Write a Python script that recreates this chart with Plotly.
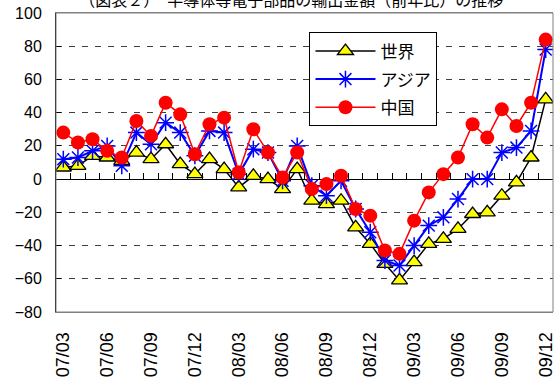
import plotly.graph_objects as go

months = ["07/03","07/04","07/05","07/06","07/07","07/08","07/09","07/10","07/11","07/12",
          "08/01","08/02","08/03","08/04","08/05","08/06","08/07","08/08","08/09","08/10","08/11","08/12",
          "09/01","09/02","09/03","09/04","09/05","09/06","09/07","09/08","09/09","09/10","09/11","09/12"]

world = [7, 8, 14, 13, 11, 16, 12, 21, 9, 3,
         12, 6, -5, 2, 0, -6, 6, -13, -15, -13, -29, -39,
         -51, -61, -50, -39, -36, -30, -21, -20, -10, -2, 13, 48]
asia = [12, 13, 17, 20, 8, 28, 21, 34, 28, 14,
        29, 28, 3, 18, 16, -1, 20, -4, -10, -1, -18, -32,
        -49, -52, -40, -28, -23, -12, 0, 0, 16, 19, 29, 78]
china = [28, 22, 24, 17, 13, 35, 26, 46, 39, 15,
         33, 37, 4, 30, 16, 1, 16, -6, -3, 2, -18, -22,
         -43, -45, -25, -8, 3, 13, 33, 25, 42, 32, 46, 84]

series_names = ["世界", "アジア", "中国"]
y_ticks = [100, 80, 60, 40, 20, 0, -20, -40, -60, -80]
title_text = "（図表２）　半導体等電子部品の輸出金額（前年比）の推移"

idx = list(range(len(months)))
label_idx = idx[::3]
label_text = [months[i] for i in label_idx]

FONT = "Liberation Sans, Arial, Noto Sans CJK JP, sans-serif"

fig = go.Figure()
fig.add_trace(go.Scatter(
    x=idx, y=world, name=series_names[0], mode="lines+markers",
    line=dict(color="black", width=1.5),
    marker=dict(symbol="triangle-up", size=14, color="#FFFF00",
                line=dict(color="black", width=1.3)),
    legendgroup="a"))
fig.add_trace(go.Scatter(
    x=idx, y=asia, name=series_names[1], mode="lines+markers",
    line=dict(color="#0000FF", width=2),
    marker=dict(symbol="asterisk-open", size=14, color="#0000FF",
                line=dict(color="#0000FF", width=1.5)),
    legendgroup="b"))
fig.add_trace(go.Scatter(
    x=idx, y=china, name=series_names[2], mode="lines+markers",
    line=dict(color="#FF0000", width=1.5),
    marker=dict(symbol="circle", size=14, color="#FF0000"),
    legendgroup="c"))
# dummy trace for the tick axis at zero
fig.add_trace(go.Scatter(x=[None], y=[None], xaxis="x2", showlegend=False, hoverinfo="skip"))

y_min, y_max = -80, 100
fig.update_layout(
    width=560, height=385,
    margin=dict(l=56, r=4, t=13, b=73),
    paper_bgcolor="white", plot_bgcolor="white",
    font=dict(family=FONT, color="black"),
    title=dict(text=title_text, x=0.52, xanchor="center", y=0.998, yref="container",
               yanchor="middle", font=dict(size=16, family="Noto Sans CJK JP")),
    showlegend=True,
    legend=dict(x=0.51, y=0.935, xanchor="left", yanchor="top",
                bgcolor="white", bordercolor="black", borderwidth=1,
                font=dict(size=17, family="Noto Sans CJK JP"),
                tracegroupgap=3, itemwidth=60),
    xaxis=dict(range=[-0.5, len(months) - 0.5], tickmode="array",
               tickvals=label_idx, ticktext=label_text, tickangle=-90,
               ticks="", showgrid=False, zeroline=False,
               showline=True, linecolor="#808080", linewidth=1, mirror=True,
               tickfont=dict(size=18), ticklabelstandoff=12),
    xaxis2=dict(overlaying="x", anchor="free",
                position=(0 - y_min) / (y_max - y_min),
                range=[-0.5, len(months) - 0.5], tickmode="array",
                tickvals=[i + 0.5 for i in idx[:-1]], ticks="inside",
                ticklen=6, tickcolor="black", tickwidth=1,
                showticklabels=False, showgrid=False, zeroline=False, showline=False),
    yaxis=dict(range=[y_min, y_max], tickmode="array", tickvals=y_ticks,
               ticktext=[str(v).replace("-", "−") for v in y_ticks],
               ticks="inside", ticklen=5, tickcolor="black",
               showgrid=True, gridcolor="#404040", gridwidth=1, griddash="6px,7px",
               zeroline=True, zerolinecolor="black", zerolinewidth=1,
               showline=True, linecolor="black", linewidth=1,
               tickfont=dict(size=16), ticklabelstandoff=10),
    shapes=[dict(type="rect", xref="paper", yref="paper", x0=0, x1=1, y0=0, y1=1,
                 line=dict(color="#808080", width=1), layer="above")],
)
fig.write_html("out.html")
